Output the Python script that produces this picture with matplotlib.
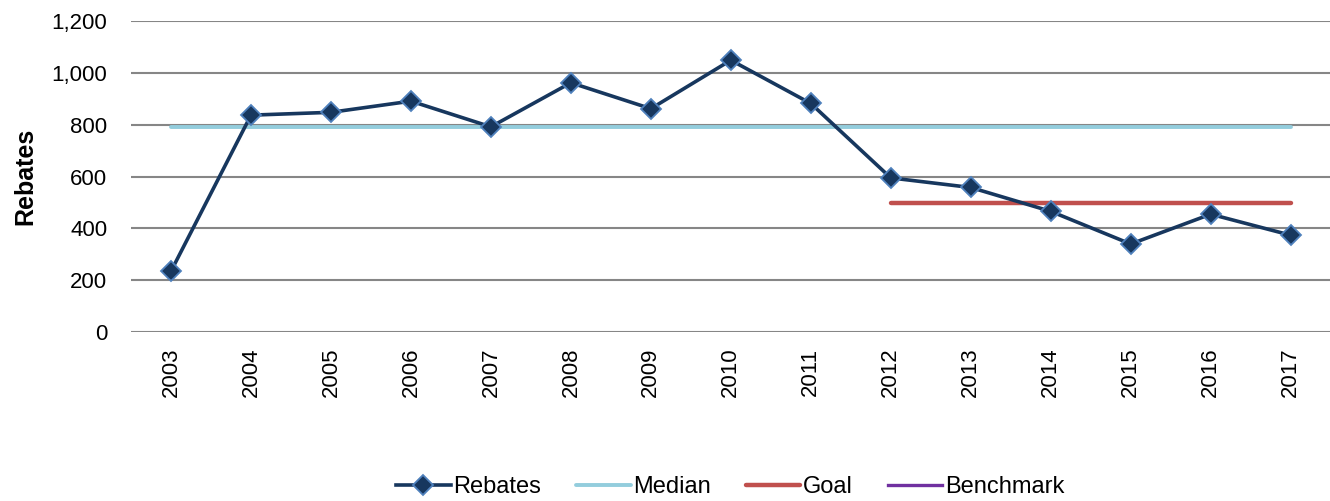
import matplotlib.pyplot as plt
from matplotlib.ticker import FuncFormatter

plt.rcParams['font.family'] = ['Liberation Sans', 'DejaVu Sans']

years = ['2003', '2004', '2005', '2006', '2007', '2008', '2009', '2010',
         '2011', '2012', '2013', '2014', '2015', '2016', '2017']
rebates = [235, 837, 848, 891, 792, 962, 862, 1049, 882, 595, 558, 466, 340, 455, 374]
median = [792] * len(years)
goal_years = years[9:]
goal = [500] * len(goal_years)
yticks = [0, 200, 400, 600, 800, 1000, 1200]

fig = plt.figure(figsize=(13.3, 5.01), dpi=100)
ax = fig.add_axes([0.0985, 0.337, 0.902, 0.621])

x = list(range(len(years)))
gx = [years.index(y) for y in goal_years]

ax.plot(x, median, color='#93CDDD', lw=2.8, solid_capstyle='round', label='Median', zorder=2)
ax.plot(gx, goal, color='#C0504D', lw=3.2, solid_capstyle='round', label='Goal', zorder=2)
ax.plot([], [], color='#7030A0', lw=2.4, label='Benchmark')
ax.plot(x, rebates, color='#17375E', lw=2.6, marker='D', markersize=10,
        markerfacecolor='#17375E', markeredgecolor='#4F81BD', markeredgewidth=1.3,
        label='Rebates', zorder=3)

ax.set_xlim(-0.5, len(years) - 0.5)
ax.set_ylim(0, 1200)
ax.set_yticks(yticks)
ax.yaxis.set_major_formatter(FuncFormatter(lambda v, p: f'{int(v):,}'))
ax.set_xticks(x)
ax.set_xticklabels(years, rotation=90, fontsize=16)
ax.tick_params(axis='y', labelsize=16, length=0, pad=17)
ax.tick_params(axis='x', length=0, pad=11)
ax.grid(axis='y', color='#868686', lw=1.5)
ax.set_axisbelow(True)
for s in ax.spines.values():
    s.set_visible(False)

ax.set_ylabel('Rebates', fontsize=18, fontweight='bold', labelpad=10)

h, l = ax.get_legend_handles_labels()
order = [l.index(n) for n in ['Rebates', 'Median', 'Goal', 'Benchmark']]
fig.legend([h[i] for i in order], [l[i] for i in order], loc='center', ncol=4,
           bbox_to_anchor=(0.549, 0.028), frameon=False, fontsize=17,
           handlelength=2.3, handletextpad=0.1, columnspacing=1.5)

fig.savefig('out.png', dpi=100)
